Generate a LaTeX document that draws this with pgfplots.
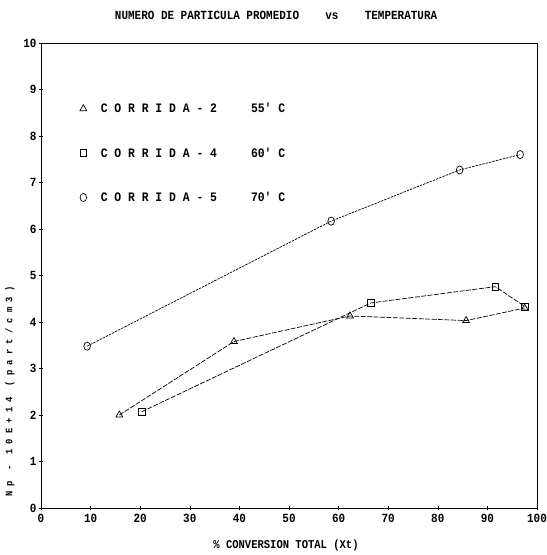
\documentclass[border=0pt]{standalone}
\usepackage{fontspec}
\setmainfont{Liberation Mono}
\newfontfamily\dm[FakeStretch=0.88]{Liberation Mono}
\usepackage{pgfplots}
\pgfplotsset{compat=1.18}
\begin{document}
\begin{tikzpicture}
\begin{axis}[
  scale only axis, width=496bp, height=465bp,
  xmin=0, xmax=100, ymin=0, ymax=10,
  xtick={0,10,...,100}, ytick={0,1,...,10},
  /pgf/number format/assume math mode=true,
  tick label style={font=\dm\bfseries\fontsize{12.5}{13}\selectfont},
  xticklabel style={yshift=-1bp},
  yticklabel style={xshift=1bp},
  tick pos=left, tick align=center, major tick length=4pt,
  tick style={black, line width=0.6pt},
  axis line style={black, line width=0.8pt},
  title={NUMERO DE PARTICULA PROMEDIO\ \ \ \ vs\ \ \ \ TEMPERATURA},
  title style={at={(rel axis cs:0.474,1)}, anchor=center, yshift=22bp,
    font=\dm\bfseries\fontsize{12.5}{13}\selectfont},
  xlabel={\dm\bfseries\fontsize{12}{13}\selectfont \% CONVERSION TOTAL (Xt)},
  xlabel style={at={(rel axis cs:0.494,0)}, anchor=center, yshift=-37bp},
  ylabel={\dm\bfseries\fontsize{10}{11}\selectfont N p\ \ -\ \ 1 0 E + 1 4\ \ ( p a r t / c m 3 )},
  ylabel style={at={(rel axis cs:-0.063,0.25)}, anchor=center},
  legend style={draw=none, fill=none, at={(axis cs:7.8,8.75)}, anchor=north west,
    font=\dm\bfseries\fontsize{13}{13}\selectfont, row sep=29.5bp, inner sep=0pt},
  legend cell align=left,
  every axis plot/.append style={black, line width=0.7pt},
]
\addlegendimage{only marks, mark=triangle, mark size=4pt, line width=0.7pt}
\addlegendentry{\hspace*{12bp}C O R R I D A - 2\hspace{34bp}55' C}
\addlegendimage{only marks, mark=square, mark size=3.3pt, line width=0.7pt}
\addlegendentry{\hspace*{12bp}C O R R I D A - 4\hspace{34bp}60' C}
\addlegendimage{only marks, mark=o, mark size=3.3pt, mark options={yscale=1.25}, line width=0.7pt}
\addlegendentry{\hspace*{12bp}C O R R I D A - 5\hspace{34bp}70' C}

\addplot[forget plot, dash pattern=on 5pt off 1.5pt, mark=triangle, mark size=4pt, mark options={solid}]
  coordinates {(15.8,2.0) (38.9,3.58) (62.3,4.13) (85.7,4.03) (97.5,4.3)};
\addplot[forget plot, dash pattern=on 5pt off 1.5pt, mark=square, mark size=3.3pt, mark options={solid}]
  coordinates {(20.3,2.07) (66.5,4.41) (91.6,4.76) (97.6,4.33)};
\addplot[forget plot, dash pattern=on 2.5pt off 1pt, mark=o, mark size=3.3pt, mark options={solid, yscale=1.25}]
  coordinates {(9.3,3.48) (58.5,6.17) (84.4,7.27) (96.6,7.6)};
\end{axis}
\pgfresetboundingbox
\path (-41bp,-47bp) rectangle (506bp,508bp);
\end{tikzpicture}
\end{document}
